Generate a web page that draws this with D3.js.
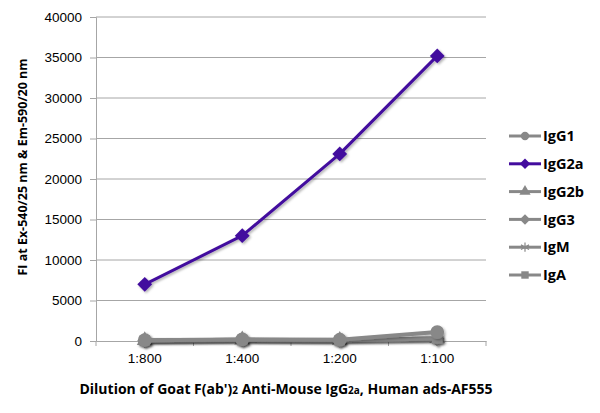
<!DOCTYPE html>
<html>
<head>
<meta charset="utf-8">
<script src="https://cdn.jsdelivr.net/npm/d3@7"></script>
<style>
  body { margin: 0; background: #fff; }
  svg { display: block; font-family: "Open Sans", "DejaVu Sans", sans-serif; }
</style>
</head>
<body>
<div id="chart"></div>
<script>
// dilutions on the x axis
const dilutions = ["1:800", "1:400", "1:200", "1:100"];

// series values
const igg1  = [100, 200, 150, 1100];
const igg2a = [7000, 13000, 23100, 35200];
const igg2b = [60, 150, 100, 350];
const igg3  = [50, 140, 90, 250];
const igm   = [30, 110, 70, 150];
const iga   = [40, 120, 80, 300];

const yTicks = [0, 5000, 10000, 15000, 20000, 25000, 30000, 35000, 40000];

// square diamond (rotated square) like the original markers
const symbolRhomb = {
  draw(context, size) {
    const r = Math.sqrt(size / 2);
    context.moveTo(0, -r);
    context.lineTo(r, 0);
    context.lineTo(0, r);
    context.lineTo(-r, 0);
    context.closePath();
  }
};

const series = [
  {name: "IgG1",  values: igg1,  symbol: d3.symbolCircle,   color: "#888888"},
  {name: "IgG2a", values: igg2a, symbol: symbolRhomb,       color: "#430c9e"},
  {name: "IgG2b", values: igg2b, symbol: d3.symbolTriangle, color: "#888888"},
  {name: "IgG3",  values: igg3,  symbol: symbolRhomb,       color: "#888888"},
  {name: "IgM",   values: igm,   symbol: d3.symbolAsterisk, color: "#888888"},
  {name: "IgA",   values: iga,   symbol: d3.symbolSquare,   color: "#888888"}
];

const W = 600, H = 413;
const margin = {top: 17, right: 114, bottom: 72, left: 96},
      width = W - margin.left - margin.right,
      height = H - margin.top - margin.bottom;

const svg = d3.select("#chart")
  .append("svg")
  .attr("width", W)
  .attr("height", H);

// soft drop shadow like the original
const defs = svg.append("defs");
const f = defs.append("filter").attr("id", "shadow")
  .attr("x", "-50%").attr("y", "-50%").attr("width", "200%").attr("height", "200%");
f.append("feDropShadow")
  .attr("dx", 1.5).attr("dy", 1.5).attr("stdDeviation", 1.2)
  .attr("flood-color", "#000").attr("flood-opacity", 0.3);

const g = svg.append("g")
  .attr("transform", `translate(${margin.left},${margin.top})`);

// scales
const x = d3.scaleBand().domain(dilutions).range([0, width]);
const y = d3.scaleLinear().domain([0, 40000]).range([height, 0]);

// gridlines
g.append("g")
  .selectAll("line")
  .data(yTicks.filter(d => d > 0))
  .join("line")
  .attr("x1", 0).attr("x2", width)
  .attr("y1", d => y(d)).attr("y2", d => y(d))
  .attr("stroke", "#a6a6a6")
  .attr("stroke-width", 1);

// y axis
const yAxis = g.append("g")
  .call(d3.axisLeft(y).tickValues(yTicks).tickSize(6).tickPadding(8).tickFormat(d3.format("d")));
yAxis.select(".domain").attr("stroke", "#a6a6a6");
yAxis.selectAll(".tick line").attr("stroke", "#a6a6a6");
yAxis.selectAll("text").style("font-size", "13.5px").attr("fill", "#000");

// x axis, ticks between categories
const xAxis = g.append("g")
  .attr("transform", `translate(0,${height})`)
  .call(d3.axisBottom(x).tickSize(0).tickPadding(12));
xAxis.select(".domain").attr("stroke", "#a6a6a6");
xAxis.selectAll("text").style("font-size", "13.5px").attr("fill", "#000");
g.append("g")
  .selectAll("line")
  .data(d3.range(dilutions.length + 1))
  .join("line")
  .attr("x1", i => i * x.step()).attr("x2", i => i * x.step())
  .attr("y1", height).attr("y2", height + 5)
  .attr("stroke", "#a6a6a6");

// lines
const line = d3.line()
  .x((d, i) => x(dilutions[i]) + x.bandwidth() / 2)
  .y(d => y(d));

const drawOrder = [2, 3, 4, 5, 0, 1];
drawOrder.forEach(k => {
  const s = series[k];
  const sg = g.append("g").attr("filter", "url(#shadow)");
  sg.append("path")
    .attr("d", line(s.values))
    .attr("fill", "none")
    .attr("stroke", s.color)
    .attr("stroke-width", s.name === "IgG2a" ? 3 : 4)
    .attr("stroke-linejoin", "round");
  sg.selectAll("path.pt")
    .data(s.values)
    .join("path")
    .attr("class", "pt")
    .attr("transform", (d, i) => `translate(${x(dilutions[i]) + x.bandwidth() / 2},${y(d)})`)
    .attr("d", d3.symbol().type(s.symbol).size(s.name === "IgG1" ? 150 : 110))
    .attr("fill", s.color)
    .attr("stroke", s.symbol === d3.symbolAsterisk ? s.color : "none")
    .attr("stroke-width", 2);
});

// legend
const legend = svg.append("g").attr("transform", "translate(509,136)");
const row = legend.selectAll("g")
  .data(series)
  .join("g")
  .attr("transform", (d, i) => `translate(0,${i * 27.8})`);
row.append("line")
  .attr("x1", 0).attr("x2", 32)
  .attr("stroke", d => d.color)
  .attr("stroke-width", 3);
row.append("path")
  .attr("transform", "translate(16,0)")
  .attr("d", d => d3.symbol().type(d.symbol).size(d.symbol === d3.symbolAsterisk ? 60 : 55)())
  .attr("fill", d => d.color)
  .attr("stroke", d => d.symbol === d3.symbolAsterisk ? d.color : "none")
  .attr("stroke-width", 1.2);
row.append("text")
  .attr("x", 34)
  .attr("dy", "0.36em")
  .style("font-size", "14.5px")
  .style("font-weight", "bold")
  .text(d => d.name);

// y axis title
svg.append("text")
  .attr("transform", "translate(27,167) rotate(-90)")
  .attr("text-anchor", "middle")
  .style("font-size", "12.5px")
  .style("font-weight", "bold")
  .text("FI at Ex-540/25 nm & Em-590/20 nm");

// x axis title with subscripts
const xt = svg.append("text")
  .attr("x", 286)
  .attr("y", 394)
  .attr("text-anchor", "middle")
  .style("font-size", "14px")
  .style("font-weight", "bold");
xt.append("tspan").text("Dilution of Goat F(ab')");
xt.append("tspan").style("font-size", "10px").text("2");
xt.append("tspan").text(" Anti-Mouse IgG");
xt.append("tspan").style("font-size", "10px").text("2a");
xt.append("tspan").text(", Human ads-AF555");
</script>
</body>
</html>
